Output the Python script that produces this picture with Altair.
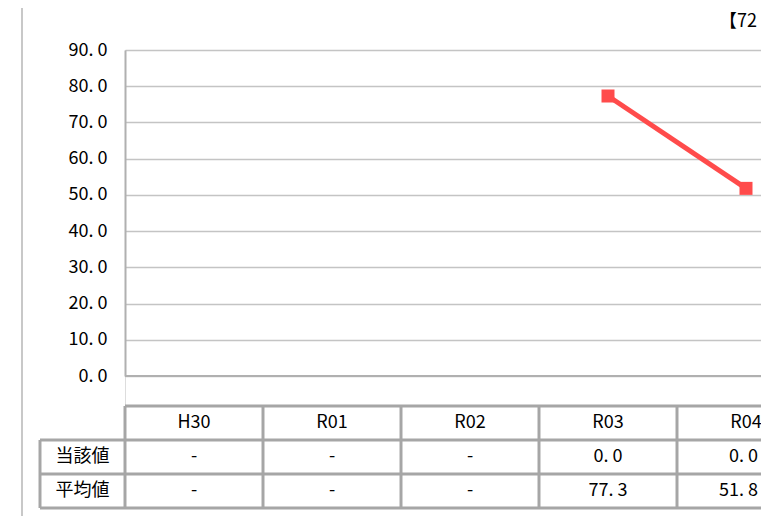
import altair as alt
import pandas as pd

categories = ["H30", "R01", "R02", "R03", "R04"]
own_values = [None, None, None, 0.0, 0.0]
avg_values = [None, None, None, 77.3, 51.8]
row_labels = ["当該値", "平均値"]
y_ticks = [0, 10, 20, 30, 40, 50, 60, 70, 80, 90]
corner_text = "【72"

FONT = "Noto Sans CJK JP"
FS = 18
GRID = "#c4c4c4"
TBL = "#a6a6a6"
RED = "#ff4b4b"

W, H = 636, 458       # plot area (x 125..761, y 50..508)
COLW = 138
XMAX = -0.5 + W / COLW
LBL_LEFT = -0.5 - 85 / COLW


def fmt(v):
    return "-" if v is None else f"{v:.1f}".replace(".", ". ")


n = len(categories)
line_df = pd.DataFrame({"i": range(n), "cat": categories, "avg": avg_values}).dropna()

# table texts (last column values kept inside the visible page edge)
txt_rows, edge_rows = [], []
for i, c in enumerate(categories):
    txt_rows.append({"x": i, "r": 0.5, "t": c})
    target = edge_rows if i == n - 1 else txt_rows
    xv = XMAX if i == n - 1 else i
    target.append({"x": xv, "r": 1.5, "t": fmt(own_values[i])})
    target.append({"x": xv, "r": 2.5, "t": fmt(avg_values[i])})
for k, lab in enumerate(row_labels):
    txt_rows.append({"x": (LBL_LEFT - 0.5) / 2, "r": 1.5 + k, "t": lab})
txt_df = pd.DataFrame(txt_rows)
edge_df = pd.DataFrame(edge_rows)

# table grid lines
h_rows = [{"x": -0.5, "x2": XMAX, "r": 0}]
for r in range(1, 4):
    h_rows.append({"x": LBL_LEFT, "x2": XMAX, "r": r})
h_df = pd.DataFrame(h_rows)
v_rows = [{"x": b - 0.5, "r": 0, "r2": 3} for b in range(n + 1) if b - 0.5 <= XMAX]
v_rows.append({"x": LBL_LEFT, "r": 1, "r2": 3})
v_df = pd.DataFrame(v_rows)

xscale = alt.Scale(domain=[-0.5, XMAX], nice=False, zero=False)
yscale = alt.Scale(domain=[0, 90], range=[326, 0], nice=False)
tscale = alt.Scale(domain=[0, 3], range=[356, 458], nice=False, zero=False)

base_y = alt.Chart(pd.DataFrame({"v": y_ticks})).mark_rule(opacity=0).encode(
    y=alt.Y("v:Q", scale=yscale,
            axis=alt.Axis(values=y_ticks, grid=True, gridColor=GRID, gridWidth=1.5,
                          domain=True, domainColor="#b0b0b0", domainWidth=2,
                          ticks=False, labelFont=FONT, labelFontSize=FS,
                          labelColor="#000000", labelPadding=18,
                          labelExpr="replace(format(datum.value, '.1f'), '.', '. ')",
                          title=None)),
    x=alt.value(0), x2=alt.value(W),
)

bottom = alt.Chart(pd.DataFrame({"v": [0]})).mark_rule(color="#b0b0b0", strokeWidth=2).encode(
    y=alt.Y("v:Q", scale=yscale, axis=None),
    x=alt.value(0), x2=alt.value(W),
)

line = alt.Chart(line_df).mark_line(color=RED, strokeWidth=5).encode(
    x=alt.X("i:Q", scale=xscale, axis=None),
    y=alt.Y("avg:Q", scale=yscale, axis=None),
)
pts = alt.Chart(line_df).mark_point(shape="square", filled=True, size=169, color=RED, opacity=1).encode(
    x=alt.X("i:Q", scale=xscale, axis=None),
    y=alt.Y("avg:Q", scale=yscale, axis=None),
)

hlines = alt.Chart(h_df).mark_rule(color=TBL, strokeWidth=3).encode(
    x=alt.X("x:Q", scale=xscale, axis=None), x2="x2:Q",
    y=alt.Y("r:Q", scale=tscale, axis=None),
)
vlines = alt.Chart(v_df).mark_rule(color=TBL, strokeWidth=3).encode(
    x=alt.X("x:Q", scale=xscale, axis=None),
    y=alt.Y("r:Q", scale=tscale, axis=None), y2="r2:Q",
)
texts = alt.Chart(txt_df).mark_text(font=FONT, fontSize=FS, color="#000000", baseline="middle").encode(
    x=alt.X("x:Q", scale=xscale, axis=None),
    y=alt.Y("r:Q", scale=tscale, axis=None),
    text="t:N",
)
edge_texts = alt.Chart(edge_df).mark_text(
    font=FONT, fontSize=FS, color="#000000", baseline="middle", align="right", dx=-3
).encode(
    x=alt.X("x:Q", scale=xscale, axis=None),
    y=alt.Y("r:Q", scale=tscale, axis=None),
    text="t:N",
)

border = alt.Chart(pd.DataFrame({"a": [0]})).mark_rule(color="#c8c8c8", strokeWidth=2).encode(
    x=alt.value(-103), y=alt.value(-42), y2=alt.value(H + 8),
)
corner = alt.Chart(pd.DataFrame({"t": [corner_text]})).mark_text(
    font=FONT, fontSize=FS, color="#000000", align="right", baseline="middle"
).encode(x=alt.value(W - 4), y=alt.value(-28), text="t:N")

chart = alt.layer(base_y, bottom, line, pts, hlines, vlines, texts, edge_texts, border, corner).resolve_scale(
    y="independent"
).properties(
    width=W, height=H,
    autosize=alt.AutoSizeParams(type="none"),
    padding={"left": 117, "top": 42, "right": 0, "bottom": 8},
).configure_view(stroke=None).configure(background="#ffffff")

chart.save("out.html", embed_options={"renderer": "svg", "actions": False})
